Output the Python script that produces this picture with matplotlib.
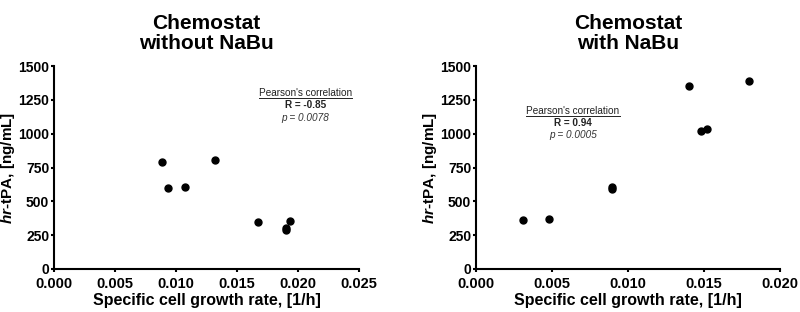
import matplotlib as mpl
mpl.use('Agg')
import matplotlib.pyplot as plt

plt.rcParams['font.family'] = ['Liberation Sans', 'DejaVu Sans']
plt.rcParams['mathtext.fontset'] = 'custom'
plt.rcParams['mathtext.it'] = 'Liberation Sans:italic:bold'
plt.rcParams['mathtext.rm'] = 'Liberation Sans:bold'

# chemostat without NaBu
mu_without = [0.00885, 0.00934, 0.01077, 0.01322, 0.01672, 0.01899, 0.01899, 0.01934]
tpa_without = [788, 596, 603, 808, 345, 305, 286, 352]

# chemostat with NaBu
mu_with = [0.00311, 0.0048, 0.00895, 0.00895, 0.0140, 0.01478, 0.01518, 0.01796]
tpa_with = [362, 369, 608, 589, 1355, 1020, 1032, 1392]

titles = ['Chemostat\nwithout NaBu', 'Chemostat\nwith NaBu']
r_labels = ['R = -0.85', 'R = 0.94']
p_labels = ['p = 0.0078', 'p = 0.0005']
x_ticks = [[0.000, 0.005, 0.010, 0.015, 0.020, 0.025],
           [0.000, 0.005, 0.010, 0.015, 0.020]]
y_ticks = [0, 250, 500, 750, 1000, 1250, 1500]

fig = plt.figure(figsize=(8, 3.12), dpi=100)
ax1 = fig.add_axes([0.0675, 0.138, 0.3815, 0.65])
ax2 = fig.add_axes([0.595, 0.138, 0.38, 0.65])

# where the correlation text sits (axes fraction, baselines)
note_pos = [(0.823, [0.855, 0.795, 0.73]), (0.319, [0.765, 0.705, 0.645])]

for i, (ax, xs, ys) in enumerate([(ax1, mu_without, tpa_without), (ax2, mu_with, tpa_with)]):
    ax.plot(xs, ys, 'o', color='black', markersize=5, clip_on=False)
    ax.set_xlim(x_ticks[i][0], x_ticks[i][-1])
    ax.set_ylim(0, 1500)
    ax.set_xticks(x_ticks[i])
    ax.set_xticklabels(['%.3f' % t for t in x_ticks[i]])
    ax.set_yticks(y_ticks)
    for lab in ax.get_xticklabels():
        lab.set_fontweight('bold')
        lab.set_fontsize(10.5)
    for lab in ax.get_yticklabels():
        lab.set_fontweight('bold')
        lab.set_fontsize(10)
    ax.tick_params(width=1.5, length=2.5)
    ax.tick_params(axis='y', pad=1)
    ax.tick_params(axis='x', pad=3.5)
    for s in ['top', 'right']:
        ax.spines[s].set_visible(False)
    for s in ['left', 'bottom']:
        ax.spines[s].set_linewidth(1.5)
    ax.set_xlabel('Specific cell growth rate, [1/h]', fontsize=11.5, fontweight='bold', labelpad=1)
    ax.set_ylabel(r'$hr$-tPA, [ng/mL]', fontsize=11, fontweight='bold', labelpad=1)
    ax.set_title(titles[i], fontsize=15, fontweight='bold', pad=12, linespacing=1.1)

fig.canvas.draw()
renderer = fig.canvas.get_renderer()

for i, ax in enumerate([ax1, ax2]):
    cx, ys_ = note_pos[i]
    t = ax.text(cx, ys_[0], "Pearson's correlation", transform=ax.transAxes,
                ha='center', va='baseline', fontsize=7.2, color='#222222')
    ax.text(cx, ys_[1], r_labels[i], transform=ax.transAxes,
            ha='center', va='baseline', fontsize=7.2, fontweight='bold', color='#222222')
    ax.text(cx, ys_[2], p_labels[i], transform=ax.transAxes,
            ha='center', va='baseline', fontsize=7.2, style='italic', color='#333333')
    # underline the heading
    bb = t.get_window_extent(renderer).transformed(ax.transAxes.inverted())
    uy = ys_[0] - 0.012
    ax.plot([bb.x0, bb.x1], [uy, uy], color='#222222', lw=0.7,
            transform=ax.transAxes, clip_on=False)

plt.savefig('out.png', dpi=100)
